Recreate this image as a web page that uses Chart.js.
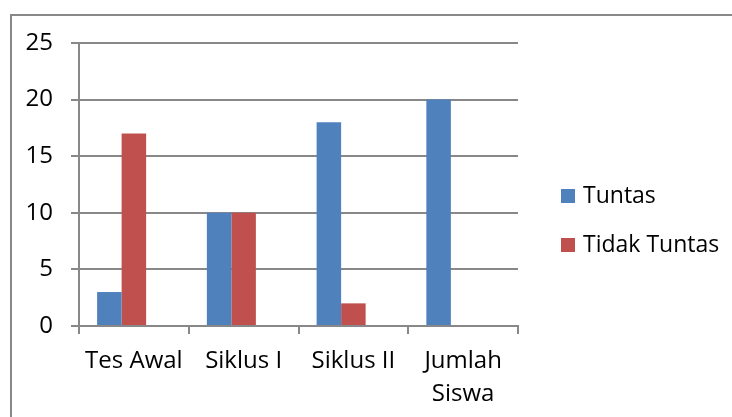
<!DOCTYPE html>
<html>
<head>
<meta charset="utf-8">
<script src="https://cdn.jsdelivr.net/npm/chart.js@4/dist/chart.umd.min.js"></script>
<style>
	html, body { margin: 0; padding: 0; background: #fff; overflow: hidden; }
	#wrap { position: relative; width: 732px; height: 417px; }
	#frame { position: absolute; left: 10px; top: 14px; width: 760px; height: 440px; border: 2px solid #888; }
	#chart { position: absolute; left: 0; top: 0; }
</style>
</head>
<body>
<div id="wrap">
	<div id="frame"></div>
	<canvas id="chart" width="732" height="417"></canvas>
</div>
<script>
// categories + series
const categories = ["Tes Awal", "Siklus I", "Siklus II", ["Jumlah", "Siswa"]];
const tuntas = [3, 10, 18, 20];
const tidakTuntas = [17, 10, 2, 0];
// third (empty) series in the original sheet, keeps the bar spacing
const kosong = [null, null, null, null];

const gridColor = "#888888";
const font = { family: "'Open Sans'", size: 24 };

// the built in legend gets squeezed by the layout (max half width), so draw it here
const sideLegend = {
	id: "sideLegend",
	afterDraw(chart) {
		let c = chart.ctx;
		let items = chart.data.datasets.slice(0, 2);
		c.save();
		c.font = `23px ${font.family}`;
		c.textBaseline = "middle";
		items.forEach((ds, i) => {
			let y = 196 + i * 49;
			c.fillStyle = ds.backgroundColor;
			c.fillRect(561, y - 7, 14, 14);
			c.fillStyle = "#000";
			c.fillText(ds.label, 583, y);
		});
		c.restore();
	}
};

let ctx = document.getElementById("chart");
let barChart = new Chart(ctx, {
	type: "bar",
	data: {
		labels: categories,
		datasets: [
			{ label: "Tuntas", data: tuntas, backgroundColor: "#4F81BD" },
			{ label: "Tidak Tuntas", data: tidakTuntas, backgroundColor: "#C0504D" },
			{ label: "", data: kosong, backgroundColor: "#9BBB59" }
		]
	},
	options: {
		responsive: false,
		animation: false,
		layout: { padding: { top: 43, left: 0, right: 214, bottom: 0 } },
		datasets: { bar: { categoryPercentage: 0.67, barPercentage: 1 } },
		scales: {
			x: {
				grid: { offset: true, drawOnChartArea: false, tickLength: 8, color: gridColor, lineWidth: 2 },
				border: { color: gridColor, width: 2 },
				ticks: { color: "#000", font: { ...font, lineHeight: 1.375 }, padding: 11, maxRotation: 0, autoSkip: false },
				afterFit: (s) => { s.height = 91 }
			},
			y: {
				min: 0, max: 25,
				grid: { tickLength: 8, color: gridColor, lineWidth: 2 },
				border: { color: gridColor, width: 2 },
				ticks: { stepSize: 5, color: "#000", font: font, padding: 18 },
				afterFit: (s) => { s.width = 79 }
			}
		},
		plugins: {
			tooltip: { enabled: false },
			legend: { display: false }
		}
	},
	plugins: [sideLegend]
});
</script>
</body>
</html>
